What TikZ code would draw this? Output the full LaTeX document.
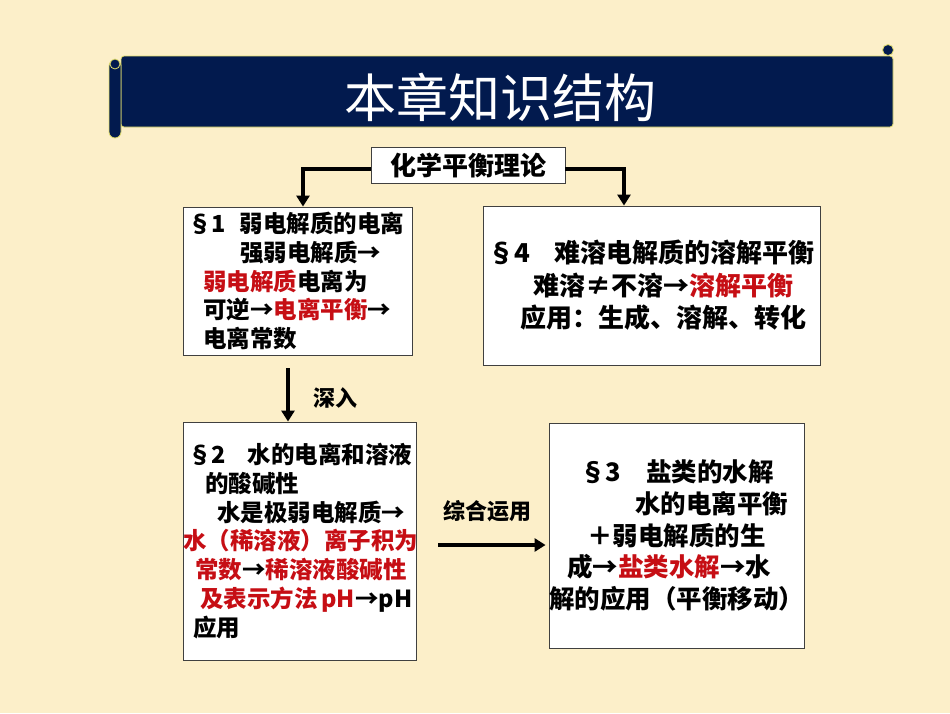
\documentclass[tikz,border=0pt]{standalone}
\usepackage{fontspec}
\setmainfont{Noto Sans CJK SC}
\usetikzlibrary{arrows.meta,positioning}
\definecolor{slidebg}{RGB}{252,239,201}
\definecolor{bannerblue}{RGB}{2,26,78}
\definecolor{bannerrim}{RGB}{226,222,110}
\definecolor{keyred}{RGB}{198,14,20}
\newcommand{\hl}[1]{\textcolor{keyred}{#1}}
\newcommand{\secno}[2]{\makebox[#1][l]{§#2}}
\newcommand{\ind}[1]{\hspace*{#1}}
\begin{document}
\begin{tikzpicture}[x=1pt,y=-1pt,
    scroll/.style={fill=bannerblue,draw=bannerrim,line width=0.8pt},
    secbox/.style={draw=black!75,fill=white,line width=0.9pt,inner sep=0pt,align=left,font=\bfseries\fontsize{23.5}{28.7}\selectfont},
    bigsec/.style={secbox,font=\bfseries\fontsize{26}{32.5}\selectfont},
    topbox/.style={draw=black!75,fill=white,line width=0.9pt,minimum width=194pt,minimum height=36pt,font=\bfseries\fontsize{26}{30}\selectfont},
    note/.style={font=\bfseries\fontsize{22}{26}\selectfont},
    flow/.style={line width=3.5pt,-{Triangle[length=11pt,width=13pt]}}]
    % slide
    \fill[slidebg] (0,0) rectangle (950,713);
    \useasboundingbox (0,0) rectangle (950,713);
    % title scroll
    \draw[scroll,rounded corners=3pt] (121,56) rectangle (893,127);
    \draw[scroll] (888,50) circle (5.5);
    \draw[scroll,rounded corners=6pt] (109,60) rectangle (121,138);
    \draw[scroll] (115,64) circle (5);
    \node[text=white,font=\fontsize{52}{56}\selectfont] (title) at (500,97) {本章知识结构};
    % boxes
    \node[topbox] (theory) at (468,165) {化学平衡理论};
    \node[secbox,text width=229pt,minimum height=148pt] (sec1) at (297.5,281) {%
        \ind{5pt}\secno{52pt}{1}弱电解质的电离\\
        \ind{57pt}强弱电解质→\\
        \ind{20pt}\hl{弱电解质}电离为\\
        \ind{20pt}可逆→\hl{电离平衡}→\\
        \ind{20pt}电离常数};
    \node[bigsec,text width=337pt,minimum height=159pt] (sec4) at (651.5,285.5) {%
        \ind{5pt}\secno{67pt}{4}难溶电解质的溶解平衡\\
        \ind{50pt}难溶≠不溶→\hl{溶解平衡}\\
        \ind{37pt}应用：生成、溶解、转化};
    \node[secbox,text width=233pt,minimum height=238pt] (sec2) at (299.5,541) {%
        \ind{5pt}\secno{60pt}{2}水的电离和溶液\\
        \ind{22pt}的酸碱性\\
        \ind{34pt}水是极弱电解质→\\
        \hl{水（稀溶液）离子积为}\\
        \ind{12pt}\hl{常数}→\hl{稀溶液酸碱性}\\
        \ind{17pt}\mbox{\hl{及表示方法\,pH}→pH}\\
        \ind{10pt}应用};
    \node[bigsec,text width=255pt,minimum height=225pt,font=\bfseries\fontsize{25.5}{31.8}\selectfont] (sec3) at (676.5,535.5) {%
        \ind{31pt}\secno{66pt}{3}盐类的水解\\
        \ind{86pt}水的电离平衡\\
        \ind{38pt}＋弱电解质的生\\
        \ind{18pt}成→\hl{盐类水解}→水\\
        解的应用（平衡移动）};
    % connectors
    \draw[flow] ([yshift=-4pt]theory.west) -| ([xshift=5.5pt]sec1.north);
    \draw[flow] ([yshift=-4pt]theory.east) -| ([xshift=-27.5pt]sec4.north);
    \draw[flow,shorten <=13pt] ([xshift=-9.5pt]sec1.south) -- ([xshift=-9.5pt]sec1.south |- sec2.north);
    \node[note] (deeper) at (335,398) {深入};
    \draw[flow,shorten <=22pt,shorten >=3pt] ([yshift=-4pt]sec2.east) -- ([yshift=-4pt]sec2.east -| sec3.west);
    \node[note] (apply) at (487,511) {综合运用};
\end{tikzpicture}
\end{document}
